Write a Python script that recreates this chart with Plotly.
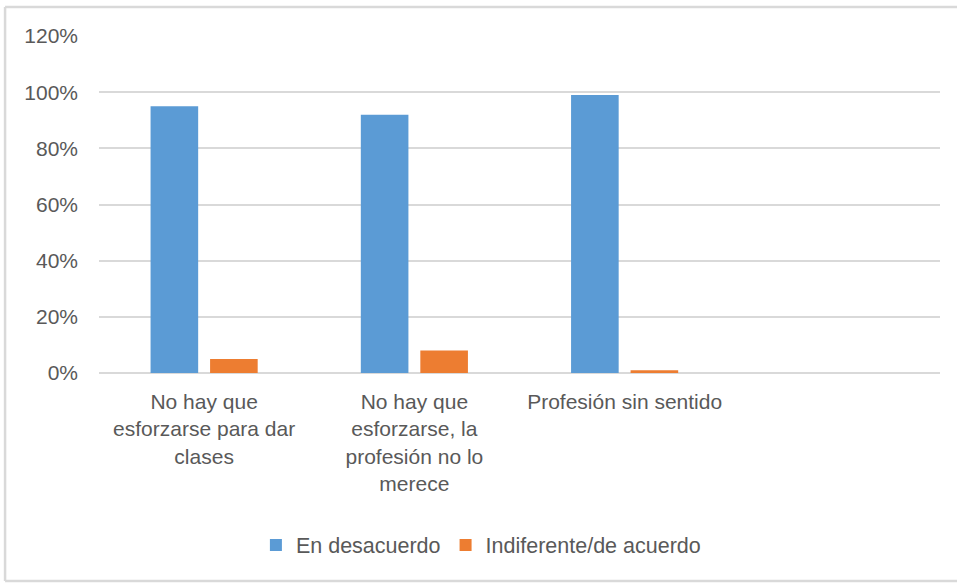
import plotly.graph_objects as go

categories = [
    "No hay que<br>esforzarse para dar<br>clases",
    "No hay que<br>esforzarse, la<br>profesión no lo<br>merece",
    "Profesión sin sentido",
]
en_desacuerdo = [0.95, 0.92, 0.99]
indiferente = [0.05, 0.08, 0.01]
y_ticks = [0, 0.2, 0.4, 0.6, 0.8, 1.0, 1.2]
y_tick_labels = ["0%", "20%", "40%", "60%", "80%", "100%", "120%"]

TXT = "#595959"
GRID = "#D9D9D9"
FONT = "Liberation Sans, Arial, sans-serif"

fig = go.Figure()
fig.add_trace(go.Bar(x=categories, y=en_desacuerdo, name="En desacuerdo",
                     marker=dict(color="#5B9BD5", line=dict(width=0))))
fig.add_trace(go.Bar(x=categories, y=indiferente, name="Indiferente/de acuerdo",
                     marker=dict(color="#ED7D31", line=dict(width=0))))

W, H = 957, 587
L, R, T, B = 99, 16.5, 36, 214
pw = W - L - R
ph = H - T - B

def px_to_paper_x(px):
    return (px - L) / pw

def px_to_paper_y(py):
    return (H - B - py) / ph

bx0, bx1 = px_to_paper_x(5), px_to_paper_x(W + 5)
by0, by1 = px_to_paper_y(581), px_to_paper_y(7)
border = dict(color=GRID, width=2.5)

fig.update_layout(
    width=W, height=H,
    margin=dict(l=L, r=R, t=T, b=B),
    paper_bgcolor="white", plot_bgcolor="white",
    barmode="group", bargap=0.434, bargroupgap=0.2,
    font=dict(family=FONT, color=TXT, size=21),
    showlegend=True,
    legend=dict(orientation="h", xanchor="left", yanchor="middle",
                x=px_to_paper_x(256), y=px_to_paper_y(545),
                font=dict(size=21.5, color=TXT), itemwidth=30,
                traceorder="normal", bgcolor="rgba(0,0,0,0)"),
    xaxis=dict(type="category", range=[-0.5, 3.5], showgrid=False,
               showline=False, zeroline=False, ticks="",
               tickfont=dict(size=21, color=TXT), ticklabelstandoff=14),
    yaxis=dict(range=[0, 1.2], tickvals=y_ticks, ticktext=y_tick_labels,
               showgrid=True, gridcolor=GRID, gridwidth=1.5,
               zeroline=True, zerolinecolor=GRID, zerolinewidth=1.5,
               showline=False, ticks="", ticklabelstandoff=20,
               tickfont=dict(size=21, color=TXT)),
    shapes=[
        dict(type="line", xref="paper", yref="paper", x0=bx0, x1=bx1,
             y0=by1, y1=by1, line=border, layer="below"),
        dict(type="line", xref="paper", yref="paper", x0=bx0, x1=bx1,
             y0=by0, y1=by0, line=border, layer="below"),
        dict(type="line", xref="paper", yref="paper", x0=bx0, x1=bx0,
             y0=by0, y1=by1, line=border, layer="below"),
    ],
)

fig.write_html(
    "out.html",
    config={"displayModeBar": False},
    post_script="document.body.style.margin='0';document.body.style.overflow='hidden';",
)
